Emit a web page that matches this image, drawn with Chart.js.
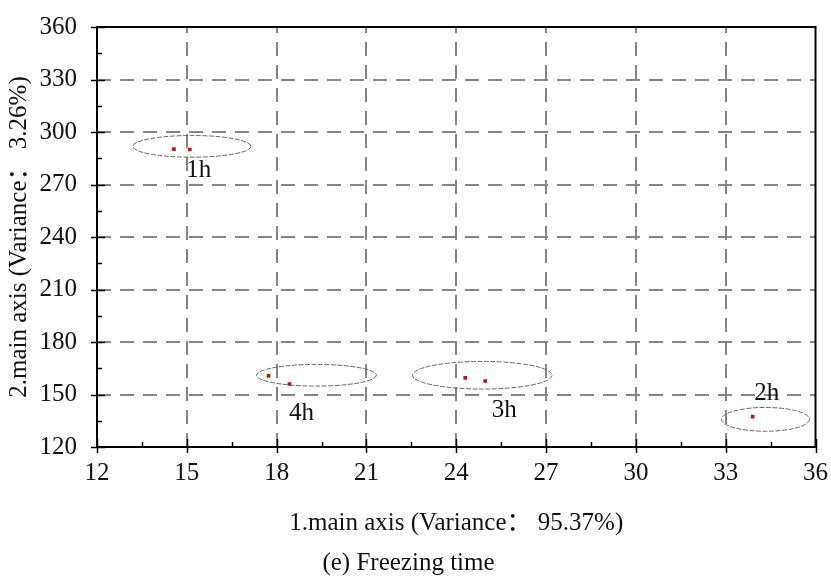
<!DOCTYPE html>
<html><head><meta charset="utf-8">
<script src="https://cdn.jsdelivr.net/npm/chart.js@4.4.0/dist/chart.umd.min.js"></script>
<style>html,body{margin:0;padding:0;background:#fff}#wrap{width:831px;height:580px}</style>
</head><body><div id="wrap"><canvas id="c" width="831" height="580"></canvas></div>
<script>
// Data
const groups = ['1h', '4h', '3h', '2h'];
const pointsX = [14.57, 15.1, 17.73, 18.43, 24.3, 24.97, 33.9];
const pointsY = [290.2, 290.0, 160.6, 156.0, 159.5, 157.7, 137.4];
const ellipseCX = [15.17, 19.33, 24.87, 34.33];
const ellipseCY = [291.8, 161.0, 161.0, 135.8];
const ellipseRX = [1.97, 2.0, 2.33, 1.47];
const ellipseRY = [6.2, 6.2, 7.9, 6.8];
const labelX = [15.4, 18.83, 25.6, 34.37];
const labelY = [278, 139, 141, 150.4];
const xTicks = [12, 15, 18, 21, 24, 27, 30, 33, 36];
const yTicks = [120, 150, 180, 210, 240, 270, 300, 330, 360];

const FONT = "'Liberation Serif','Noto Sans CJK SC','Times New Roman',serif";
const FS = 25;

const deco = {
  id: 'deco',
  beforeDatasetsDraw(chart) {
    const {ctx, chartArea: a, scales: {x, y}} = chart;
    ctx.save();
    // dashed grid lines
    ctx.strokeStyle = '#858585';
    ctx.lineWidth = 2;
    ctx.setLineDash([14, 9]);
    xTicks.slice(1, -1).forEach(v => {
      const px = Math.round(x.getPixelForValue(v));
      ctx.beginPath(); ctx.moveTo(px, a.bottom); ctx.lineTo(px, a.top); ctx.stroke();
    });
    yTicks.slice(1, -1).forEach(v => {
      const py = Math.round(y.getPixelForValue(v));
      ctx.beginPath(); ctx.moveTo(a.left, py); ctx.lineTo(a.right, py); ctx.stroke();
    });
    // ellipses
    ctx.strokeStyle = '#666';
    ctx.lineWidth = 1;
    ctx.setLineDash([5, 1.5]);
    groups.forEach((g, i) => {
      const cx = x.getPixelForValue(ellipseCX[i]);
      const cy = y.getPixelForValue(ellipseCY[i]);
      const rx = Math.abs(x.getPixelForValue(ellipseCX[i] + ellipseRX[i]) - cx);
      const ry = Math.abs(y.getPixelForValue(ellipseCY[i] + ellipseRY[i]) - cy);
      ctx.beginPath(); ctx.ellipse(cx, cy, rx, ry, 0, 0, Math.PI * 2); ctx.stroke();
    });
    ctx.setLineDash([]);
    // group labels
    ctx.fillStyle = '#111';
    ctx.font = FS + "px " + FONT;
    ctx.textAlign = 'center';
    ctx.textBaseline = 'middle';
    groups.forEach((g, i) => {
      ctx.fillText(g, x.getPixelForValue(labelX[i]), y.getPixelForValue(labelY[i]));
    });
    ctx.restore();
  },
  afterDatasetsDraw(chart) {
    const {ctx, chartArea: a, scales: {x, y}} = chart;
    ctx.save();
    ctx.strokeStyle = '#000';
    ctx.lineWidth = 1.5;
    // major ticks
    xTicks.forEach(v => {
      const px = Math.round(x.getPixelForValue(v)) + 0.5;
      ctx.beginPath(); ctx.moveTo(px, a.bottom + 6); ctx.lineTo(px, a.bottom - 8); ctx.stroke();
    });
    yTicks.forEach(v => {
      const py = Math.round(y.getPixelForValue(v)) + 0.5;
      ctx.beginPath(); ctx.moveTo(a.left - 6, py); ctx.lineTo(a.left + 8, py); ctx.stroke();
    });
    // minor ticks
    for (let i = 0; i < xTicks.length - 1; i++) {
      const px = Math.round(x.getPixelForValue((xTicks[i] + xTicks[i + 1]) / 2)) + 0.5;
      ctx.beginPath(); ctx.moveTo(px, a.bottom); ctx.lineTo(px, a.bottom - 5); ctx.stroke();
    }
    for (let i = 0; i < yTicks.length - 1; i++) {
      const py = Math.round(y.getPixelForValue((yTicks[i] + yTicks[i + 1]) / 2)) + 0.5;
      ctx.beginPath(); ctx.moveTo(a.left, py); ctx.lineTo(a.left + 5, py); ctx.stroke();
    }
    // frame
    ctx.lineWidth = 2;
    ctx.strokeRect(a.left, a.top, a.right - a.left, a.bottom - a.top);
    ctx.restore();
  }
};

new Chart(document.getElementById('c'), {
  type: 'scatter',
  data: {
    datasets: [{
      data: pointsX.map((v, i) => ({x: v, y: pointsY[i]})),
      pointStyle: 'rect',
      radius: 2.6,
      backgroundColor: '#c81010',
      borderColor: '#c81010',
      borderWidth: 0
    }]
  },
  options: {
    responsive: false,
    animation: false,
    layout: {padding: {top: 22, right: 14, left: 0, bottom: 0}},
    plugins: {
      legend: {display: false},
      tooltip: {enabled: false},
      title: {
        display: true,
        position: 'bottom',
        text: '(e) Freezing time',
        color: '#111',
        font: {family: FONT, size: FS, weight: 'normal', lineHeight: 1.2},
        padding: {top: 4, bottom: 2}
      }
    },
    scales: {
      x: {
        type: 'linear', min: 12, max: 36,
        afterBuildTicks(s) { s.ticks = xTicks.map(v => ({value: v})); },
        afterFit(s) { s.height = 97; },
        grid: {display: false},
        border: {display: false},
        ticks: {color: '#111', font: {family: FONT, size: FS}, padding: 3, maxRotation: 0},
        title: {display: true, text: '1.main axis (Variance： 95.37%)', color: '#111',
                font: {family: FONT, size: FS, lineHeight: 1.2}, padding: {top: 0, bottom: 6}}
      },
      y: {
        type: 'linear', min: 120, max: 360,
        afterBuildTicks(s) { s.ticks = yTicks.map(v => ({value: v})); },
        afterFit(s) { s.width = 97; },
        grid: {display: false},
        border: {display: false},
        ticks: {color: '#111', font: {family: FONT, size: FS}, padding: 12},
        title: {display: true, text: '2.main axis (Variance： 3.26%)', color: '#111',
                font: {family: FONT, size: FS, lineHeight: 1.2}, padding: {top: 4, bottom: 0}}
      }
    }
  },
  plugins: [deco]
});
</script>
</body></html>
